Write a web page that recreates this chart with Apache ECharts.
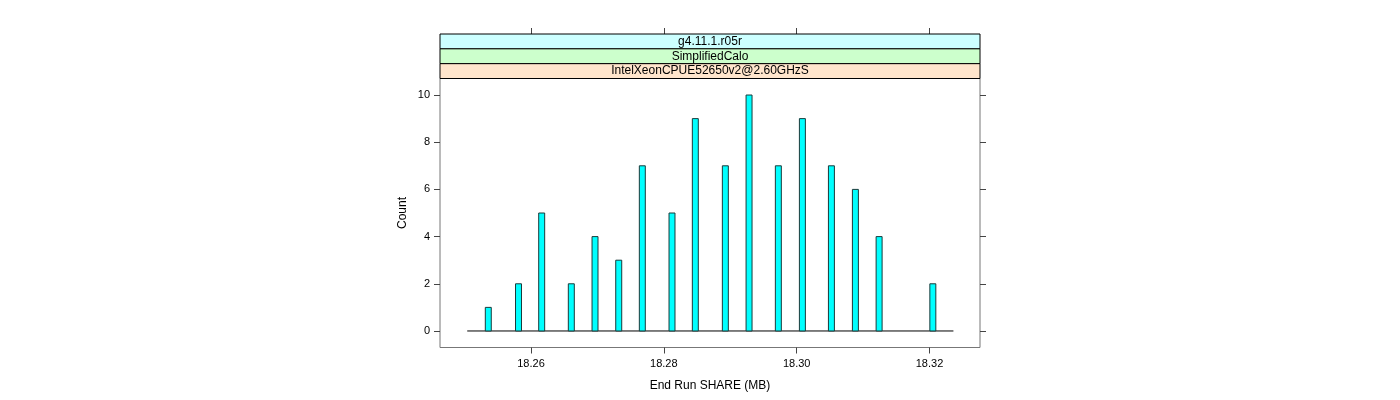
<!DOCTYPE html>
<html>
<head>
<meta charset="utf-8">
<script src="https://cdn.jsdelivr.net/npm/echarts@6/dist/echarts.min.js"></script>
<style>
html,body{margin:0;padding:0;background:#fff;}
#chart{width:1400px;height:400px;}
</style>
</head>
<body>
<div id="chart"></div>
<script>
// Data
const binCenters = [18.25357, 18.25812, 18.26161, 18.26607, 18.26964, 18.27321, 18.27676, 18.28123, 18.28474, 18.28926, 18.29283, 18.29724, 18.30086, 18.30523, 18.30884, 18.31241, 18.32050];
const counts = [1, 2, 5, 2, 4, 3, 7, 5, 9, 7, 10, 7, 9, 7, 6, 4, 2];
const binWidth = 0.0009;
const histRange = [18.2504, 18.3236];
const xTicks = [18.26, 18.28, 18.30, 18.32];
const yTicks = [0, 2, 4, 6, 8, 10];
const stripLabels = ['g4.11.1.r05r', 'SimplifiedCalo', 'IntelXeonCPUE52650v2@2.60GHzS'];
const stripColors = ['#ccffff', '#ccffcc', '#ffe5cc'];
const xTitle = 'End Run SHARE (MB)';
const yTitle = 'Count';

const FONT = 'Liberation Sans, Arial, sans-serif';
const chart = echarts.init(document.getElementById('chart'), null, {renderer: 'canvas'});

const L = 440, R = 980, T = 78.5, B = 347.5, stripTop = 34;
const stripH = (T - stripTop) / stripLabels.length;

const graphics = [];
stripLabels.forEach((s, i) => {
  graphics.push({
    type: 'rect',
    shape: {x: L, y: stripTop + i * stripH, width: R - L, height: stripH},
    style: {fill: stripColors[i], stroke: '#000', lineWidth: 1},
    z: 10
  });
  graphics.push({
    type: 'text',
    x: (L + R) / 2,
    y: stripTop + i * stripH + stripH / 2,
    style: {text: s, font: '12px ' + FONT, fill: '#000', align: 'center', verticalAlign: 'middle'},
    z: 11
  });
});

const xMin = 18.2463, xMax = 18.3276;
const tickStyle = {show: true, length: 6, inside: false, lineStyle: {color: '#444', width: 1}};
const noLine = {show: false, onZero: false};

const option = {
  animation: false,
  backgroundColor: '#fff',
  grid: {left: L, right: 1400 - R, top: T, bottom: 400 - B, show: true, borderColor: '#777', borderWidth: 1, backgroundColor: 'transparent'},
  xAxis: [
    {
      type: 'value', min: xMin, max: xMax, position: 'bottom',
      splitLine: {show: false},
      axisLine: noLine,
      axisTick: Object.assign({customValues: xTicks}, tickStyle),
      axisLabel: {customValues: xTicks, formatter: v => v.toFixed(2), fontFamily: FONT, fontSize: 11, color: '#000', margin: 11},
      name: xTitle, nameLocation: 'middle', nameGap: 32,
      nameTextStyle: {fontFamily: FONT, fontSize: 12, color: '#000'}
    },
    {
      type: 'value', min: xMin, max: xMax, position: 'top', offset: T - stripTop,
      splitLine: {show: false},
      axisLine: noLine,
      axisTick: Object.assign({customValues: xTicks}, tickStyle),
      axisLabel: {show: false}
    }
  ],
  yAxis: [
    {
      type: 'value', min: -0.7, max: 10.7, position: 'left',
      splitLine: {show: false},
      axisLine: noLine,
      axisTick: Object.assign({customValues: yTicks}, tickStyle),
      axisLabel: {customValues: yTicks, fontFamily: FONT, fontSize: 11, color: '#000', margin: 10},
      name: yTitle, nameLocation: 'middle', nameGap: 31, nameRotate: 90,
      nameTextStyle: {fontFamily: FONT, fontSize: 12, color: '#000'}
    },
    {
      type: 'value', min: -0.7, max: 10.7, position: 'right',
      splitLine: {show: false},
      axisLine: noLine,
      axisTick: Object.assign({customValues: yTicks}, tickStyle),
      axisLabel: {show: false}
    }
  ],
  graphic: graphics,
  series: [
    {
      type: 'line',
      data: [[histRange[0], 0], [histRange[1], 0]],
      symbol: 'none',
      lineStyle: {color: '#000', width: 1},
      z: 1,
      silent: true
    },
    {
      type: 'custom',
      data: binCenters.map((c, i) => [c, counts[i]]),
      renderItem: function (params, api) {
        const c = api.value(0), n = api.value(1);
        const p1 = api.coord([c - binWidth / 2, n]);
        const p2 = api.coord([c + binWidth / 2, 0]);
        return {
          type: 'rect',
          shape: {x: p1[0], y: p1[1], width: p2[0] - p1[0], height: p2[1] - p1[1]},
          style: {fill: '#00ffff', stroke: '#1a3a3a', lineWidth: 1}
        };
      },
      z: 2
    }
  ]
};
chart.setOption(option);
</script>
</body>
</html>
